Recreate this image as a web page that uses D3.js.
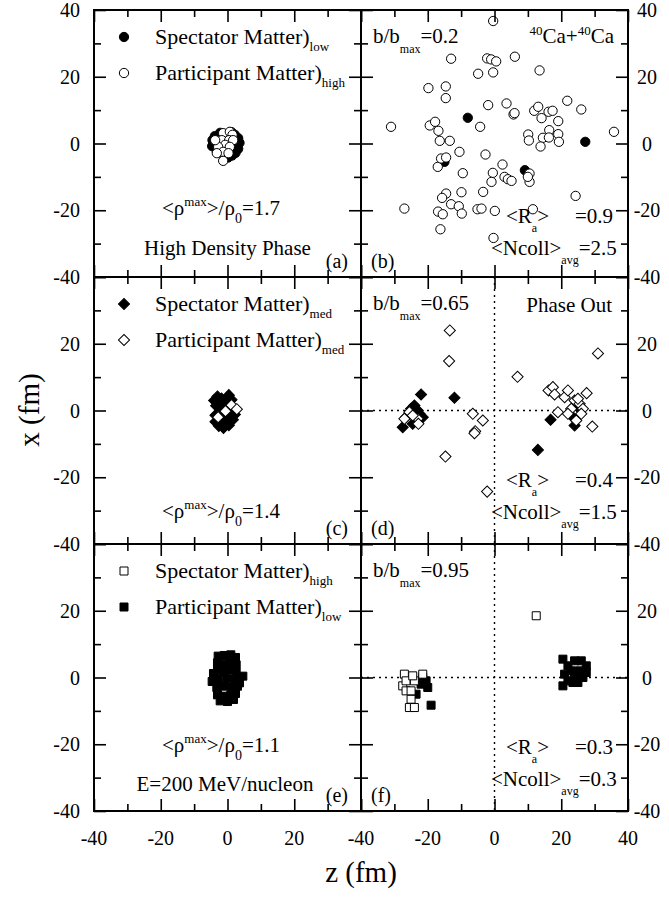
<!DOCTYPE html>
<html>
<head>
<meta charset="utf-8">
<script src="https://cdn.jsdelivr.net/npm/d3@7"></script>
<style>
  body { margin: 0; background: #fff; }
  text { font-family: "Liberation Serif", "Times New Roman", serif; fill: #000; }
</style>
</head>
<body>
<div id="chart"></div>
<script>
// points are [z, x] in fm
const aSpectator = [[-4.5,1],[-4.6,-0.8],[-3.8,2.2],[-3.2,-2.4],[-2.2,3.2],[-1.2,-3.8],[0.2,-4.2],[1.4,-3.6],[2.4,-2.8],[3.2,-1.6],[3.6,0.2],[3.2,1.6],[2.2,2.6],[1.2,3.4],[0,2.2],[-1,0.2],[0.6,-1.6],[2,0],[-2.6,0.2],[1.6,-0.6],[-2,-1.8],[-0.4,-2.4],[-3.6,0.6],[2.8,1],[-1.6,1.8]];
const aParticipant = [[-1.3,3.1],[0.7,3.5],[1.5,2.6],[-1.7,1],[0.5,1],[1.7,1],[-0.7,-0.4],[-2.8,-1],[0.7,-1],[-1.3,-2.5],[-3.2,-2.9],[0.3,-2.9],[-1.3,-5.2],[-3.7,1]];

const bSpectator = [[-8,7.7],[27.2,0.5],[9.1,-8],[-15,-5.5]];
const bParticipant = [[-0.4,36.7],[-13,25.4],[-2.2,25.5],[-1,25.2],[0.5,24.6],[6.1,26],[-4.9,20.9],[-0.4,21.3],[13.5,21.9],
  [-19.8,16.6],[-14.6,17.1],[-14.6,13.6],[-1.9,11.5],[3.6,12],[5.7,8.7],[6,9.1],[11.9,9.8],[13.1,11],[14.1,7.6],[16.2,9.5],
  [17.4,9.8],[19.1,6.7],[21.8,12.8],[26,10.2],[35.8,3.5],[-31,5],[-19.4,5.4],[-17.8,6.5],[-16.8,3.8],[-16.4,0.8],[-13.4,0.8],
  [-4.3,5],[10.1,2.7],[10.3,0.9],[14.5,1.7],[16.4,4],[16.3,1.8],[19.1,2.8],[19.3,0.5],[13.8,-0.9],[-10.5,-2.5],[-2.7,-3.3],
  [-17,-7],[-16,-4.5],[-14.5,-4.2],[-9.5,-8.9],[2.4,-6.3],[-0.5,-8.8],[-0.9,-11.5],[3,-10],[4,-10.7],[5.1,-11.2],[10.5,-9],
  [10.5,-11.5],[10,-10],[-9.9,-14.6],[-3.4,-14.5],[-14.5,-15],[-15.7,-16.3],[-13,-18.2],[-10.7,-18.8],[-9.8,-21],[-16.9,-20.4],
  [-15.5,-21.2],[-5.1,-19.7],[-3.9,-19.5],[0.1,-20.2],[11.5,-19.7],[-16.2,-25.7],[-27,-19.5],[-0.3,-28.3],[24.3,-15.7]];

const cSpectator = [[-4,3],[-3,4.2],[-1.8,3.6],[0.4,4.6],[1.2,3.2],[-3.4,1.4],[-1.6,2],[0,2.6],[-3.6,-1.4],[-3.6,-3.4],[-2.6,-4.6],[-1.2,-5.2],[0.4,-4.4],[1.6,-2.8],[2.2,-1.2],[0.8,-3],[-1.2,-3.2],[-2.4,-1.2],[0.2,-1.4],[1.4,0.8],[-2.2,0.8],[-0.6,0]];
const cParticipant = [[-2.8,-2],[-0.6,-0.2],[1.2,1.6],[2.8,0.4]];

const dSpectator = [[-22,4.8],[-12,3.8],[13,-11.8],[16.8,-2.8],[24,-4.5],[-27.5,-5],[-24,1.5],[-25,0.5],[-23,0],[-26.5,-2],[-21.5,-2],[-24.5,-4],[-22.5,-1],[23.5,-2],[25,1]];
const dParticipant = [[-13.4,24],[-13.6,14.8],[-14.7,-13.8],[-6.5,-1],[-3.5,-3],[-5.8,-6.2],[-6,-6.8],[-2.2,-24.3],[6.9,10.1],[31,17.1],
  [16.2,6],[17.5,7],[18,4.8],[21,4],[22,6],[24,3],[25.5,2],[25,3.5],[27.6,5.2],[26.5,0.5],[23,0.5],[19,-0.5],[24.5,-3],[29.3,-4.8],
  [22,-1],[26,-1],[-25.5,-0.5],[-27,-2.5],[-23,-2.5],[-22.8,-4],[-24.5,-1.5]];

const eParticipant = [[-2.8,6.4],[-1,6.6],[1,6.8],[2.4,6],[-3,4.4],[-1.4,4],[0.6,4.4],[2.6,3.8],[-3,2],[-1,1.8],[1.2,2.2],[2.6,1.4],[4.6,0.4],[-4.6,-1.2],[-2.6,-0.6],[0,-0.4],[2.4,-0.8],[-3.2,-3],[-1,-2.6],[1.4,-3],[3,-2.6],[-3,-5.2],[-1,-5.6],[1,-5.2],[2.4,-4.8],[-2.2,-7],[0,-7.2],[1.8,-6.6],[-4.2,1.2],[3.6,-1.6]];
const eSpectator = [];

const fParticipant = [[-19,-8.3],[-20,-3],[-21.5,0],[-23.5,-5],[-22,-2],[-20.5,-1],[20.5,5.5],[20.5,-2.5],[22,-1],[24,5],[26,5],[27.5,3.5],[27.5,1.5],[25,-1.5],[23,2],[25.5,2],[24,0],[22,3.5],[21,1],[26.5,0],[23.5,-1.5]];
const fSpectator = [[12.5,18.5],[-27,1],[-27.5,-2.5],[-26.5,-1],[-24,-1],[-24.5,0.5],[-21.5,1],[-25,-6.5],[-25.5,-9],[-24,-9],[-26.5,-4],[-25,-4]];

const majorTicks = [-40, -20, 0, 20, 40];
const minorTicks = [-30, -10, 10, 30];

const W = 669, H = 899;
const padLeft = 94, padTop = 10, size = 267;

const svg = d3.select("#chart").append("svg")
    .attr("width", W).attr("height", H)
    .style("background", "#fff");

const x = d3.scaleLinear().domain([-40, 40]).range([0, size]);
const y = d3.scaleLinear().domain([-40, 40]).range([size, 0]);

const symbolFor = {
  circle: d3.symbol(d3.symbolCircle, 68),
  square: d3.symbol(d3.symbolSquare, 64),
  diamond: d3.symbol(d3.symbolSquare, 62)
};

const panels = [
  {id: "a", col: 0, row: 0, shape: "circle", layers: [[aSpectator, "#000"], [aParticipant, "#fff"]]},
  {id: "b", col: 1, row: 0, shape: "circle", layers: [[bSpectator, "#000"], [bParticipant, "#fff"]]},
  {id: "c", col: 0, row: 1, shape: "diamond", layers: [[cSpectator, "#000"], [cParticipant, "#fff"]]},
  {id: "d", col: 1, row: 1, shape: "diamond", layers: [[dSpectator, "#000"], [dParticipant, "#fff"]], cross: true},
  {id: "e", col: 0, row: 2, shape: "square", layers: [[eSpectator, "#fff"], [eParticipant, "#000"]]},
  {id: "f", col: 1, row: 2, shape: "square", layers: [[fParticipant, "#000"], [fSpectator, "#fff"]], cross: true}
];

//text with sub/superscripts
function rich(g, px, py, parts, anchor, fs) {
  const t = g.append("text")
      .attr("x", px).attr("y", py)
      .attr("font-size", fs)
      .attr("text-anchor", anchor || "start");
  let shift = 0;
  parts.forEach(p => {
    const s = t.append("tspan").text(p.t);
    const target = p.sub ? (p.off || 9) : p.sup ? -(p.off || 9) : 0;
    if (target - shift !== 0) s.attr("dy", target - shift);
    shift = target;
    if (p.sub || p.sup) s.attr("font-size", p.fs || 12);
    if (p.dx) s.attr("dx", p.dx);
  });
  return t;
}

function drawTicks(g) {
  const sides = [
    [d3.axisBottom(x), `translate(0,${size})`],
    [d3.axisTop(x), "translate(0,0)"],
    [d3.axisLeft(y), "translate(0,0)"],
    [d3.axisRight(y), `translate(${size},0)`]
  ];
  sides.forEach(([axis, tr]) => {
    [[majorTicks, -12], [minorTicks, -7]].forEach(([vals, len]) => {
      const a = g.append("g")
          .attr("transform", tr)
          .call(axis.tickValues(vals).tickSize(len).tickFormat(""));
      a.select(".domain").remove();
      a.selectAll("line").attr("stroke", "#000").attr("stroke-width", 1.6);
    });
  });
}

panels.forEach(p => {
  const g = svg.append("g")
      .attr("transform", `translate(${padLeft + p.col * size},${padTop + p.row * size})`);

  if (p.cross) {
    g.append("line")
        .attr("x1", x(-40)).attr("x2", x(40)).attr("y1", y(0)).attr("y2", y(0))
        .attr("stroke", "#000").attr("stroke-width", 1.4).attr("stroke-dasharray", "2,4");
    g.append("line")
        .attr("x1", x(0)).attr("x2", x(0)).attr("y1", y(40)).attr("y2", y(-40))
        .attr("stroke", "#000").attr("stroke-width", 1.4).attr("stroke-dasharray", "2,4");
  }

  p.layers.forEach(([pts, fill]) => {
    g.selectAll(null)
      .data(pts)
      .enter()
      .append("path")
        .attr("d", symbolFor[p.shape]())
        .attr("transform", d => `translate(${x(d[0])},${y(d[1])})` + (p.shape === "diamond" ? " rotate(45)" : ""))
        .attr("fill", fill)
        .attr("stroke", "#000")
        .attr("stroke-width", 1);
  });

  drawTicks(g);

  g.append("rect")
      .attr("width", size).attr("height", size)
      .attr("fill", "none").attr("stroke", "#000").attr("stroke-width", 2);

  // outer tick labels
  const yVals = p.row === 0 ? majorTicks : majorTicks.filter(v => v < 40);
  if (p.col === 0) {
    yVals.forEach(v => g.append("text").attr("x", -14).attr("y", y(v)).attr("dy", "0.35em")
        .attr("text-anchor", "end").attr("font-size", 20).text(v));
  } else {
    yVals.forEach(v => g.append("text").attr("x", size + 19).attr("y", y(v)).attr("dy", "0.35em")
        .attr("text-anchor", "middle").attr("font-size", 20).text(v));
  }
  if (p.row === 2) {
    const xVals = p.col === 1 ? majorTicks : majorTicks.filter(v => v < 40);
    xVals.forEach(v => g.append("text").attr("x", x(v)).attr("y", size + 34)
        .attr("text-anchor", "middle").attr("font-size", 20).text(v));
  }

  // panel letter
  if (p.col === 0) {
    g.append("text").attr("x", 254).attr("y", 258).attr("text-anchor", "end").attr("font-size", 20).text(`(${p.id})`);
  } else {
    g.append("text").attr("x", 10).attr("y", 258).attr("font-size", 20).text(`(${p.id})`);
  }
  p.g = g;
});

// legends (left column)
const legends = [
  {panel: 0, shape: "circle", items: [["#000", "Spectator Matter)", "low"], ["#fff", "Participant Matter)", "high"]]},
  {panel: 2, shape: "diamond", items: [["#000", "Spectator Matter)", "med"], ["#fff", "Participant Matter)", "med"]]},
  {panel: 4, shape: "square", items: [["#fff", "Spectator Matter)", "high"], ["#000", "Participant Matter)", "low"]]}
];
legends.forEach(l => {
  const g = panels[l.panel].g;
  l.items.forEach(([fill, label, sub], i) => {
    const cy = 27 + i * 36;
    g.append("path")
        .attr("d", symbolFor[l.shape]())
        .attr("transform", `translate(30,${cy})` + (l.shape === "diamond" ? " rotate(45)" : ""))
        .attr("fill", fill).attr("stroke", "#000").attr("stroke-width", 1);
    rich(g, 61, cy + 7, [{t: label}, {t: sub, sub: true, off: 7, fs: 13}], "start", 22);
  });
});

// density annotations
[[0, "1.7", 205], [2, "1.4", 241], [4, "1.1", 208]].forEach(([pi, val, by]) => {
  rich(panels[pi].g, 68, by, [
    {t: "<\u03c1"}, {t: "max", sup: true, off: 9, fs: 13},
    {t: ">/\u03c1"}, {t: "0", sub: true, off: 8, fs: 14}, {t: "=" + val}
  ], "start", 21);
});
panels[0].g.append("text").attr("x", 133.5).attr("y", 245).attr("text-anchor", "middle")
    .attr("font-size", 21).text("High Density Phase");
panels[4].g.append("text").attr("x", 131).attr("y", 247).attr("text-anchor", "middle")
    .attr("font-size", 21).text("E=200 MeV/nucleon");

// right column annotations
[[1, "0.2", "0.9", "2.5", 213, 245], [3, "0.65", "0.4", "1.5", 210, 242], [5, "0.95", "0.3", "0.3", 210, 242]].forEach(([pi, b, ra, nc, yRa, yN]) => {
  const g = panels[pi].g;
  rich(g, 12, 33, [{t: "b/b"}, {t: "max", sub: true, off: 10, fs: 12}, {t: "=" + b}], "start", 21);
  rich(g, 145, yRa, [{t: "<R"}, {t: "a", sub: true, off: 9, fs: 12}, {t: ">"}], "start", 21);
  g.append("text").attr("x", 252).attr("y", yRa).attr("text-anchor", "end").attr("font-size", 21).text("=" + ra);
  rich(g, 130, yN, [{t: "<Ncoll>"}, {t: "avg", sub: true, off: 9, fs: 12}, {t: "=" + nc}], "start", 21);
});
rich(panels[1].g, 253, 33, [{t: "40", sup: true, off: 8, fs: 13}, {t: "Ca+"}, {t: "40", sup: true, off: 8, fs: 13}, {t: "Ca"}], "end", 21);
panels[3].g.append("text").attr("x", 251).attr("y", 35).attr("text-anchor", "end").attr("font-size", 21).text("Phase Out");

// axis titles
svg.append("text")
    .attr("transform", "translate(39,410) rotate(-90)")
    .attr("text-anchor", "middle").attr("font-size", 29).text("x (fm)");
svg.append("text")
    .attr("x", 361).attr("y", 882)
    .attr("text-anchor", "middle").attr("font-size", 29).text("z (fm)");
</script>
</body>
</html>
